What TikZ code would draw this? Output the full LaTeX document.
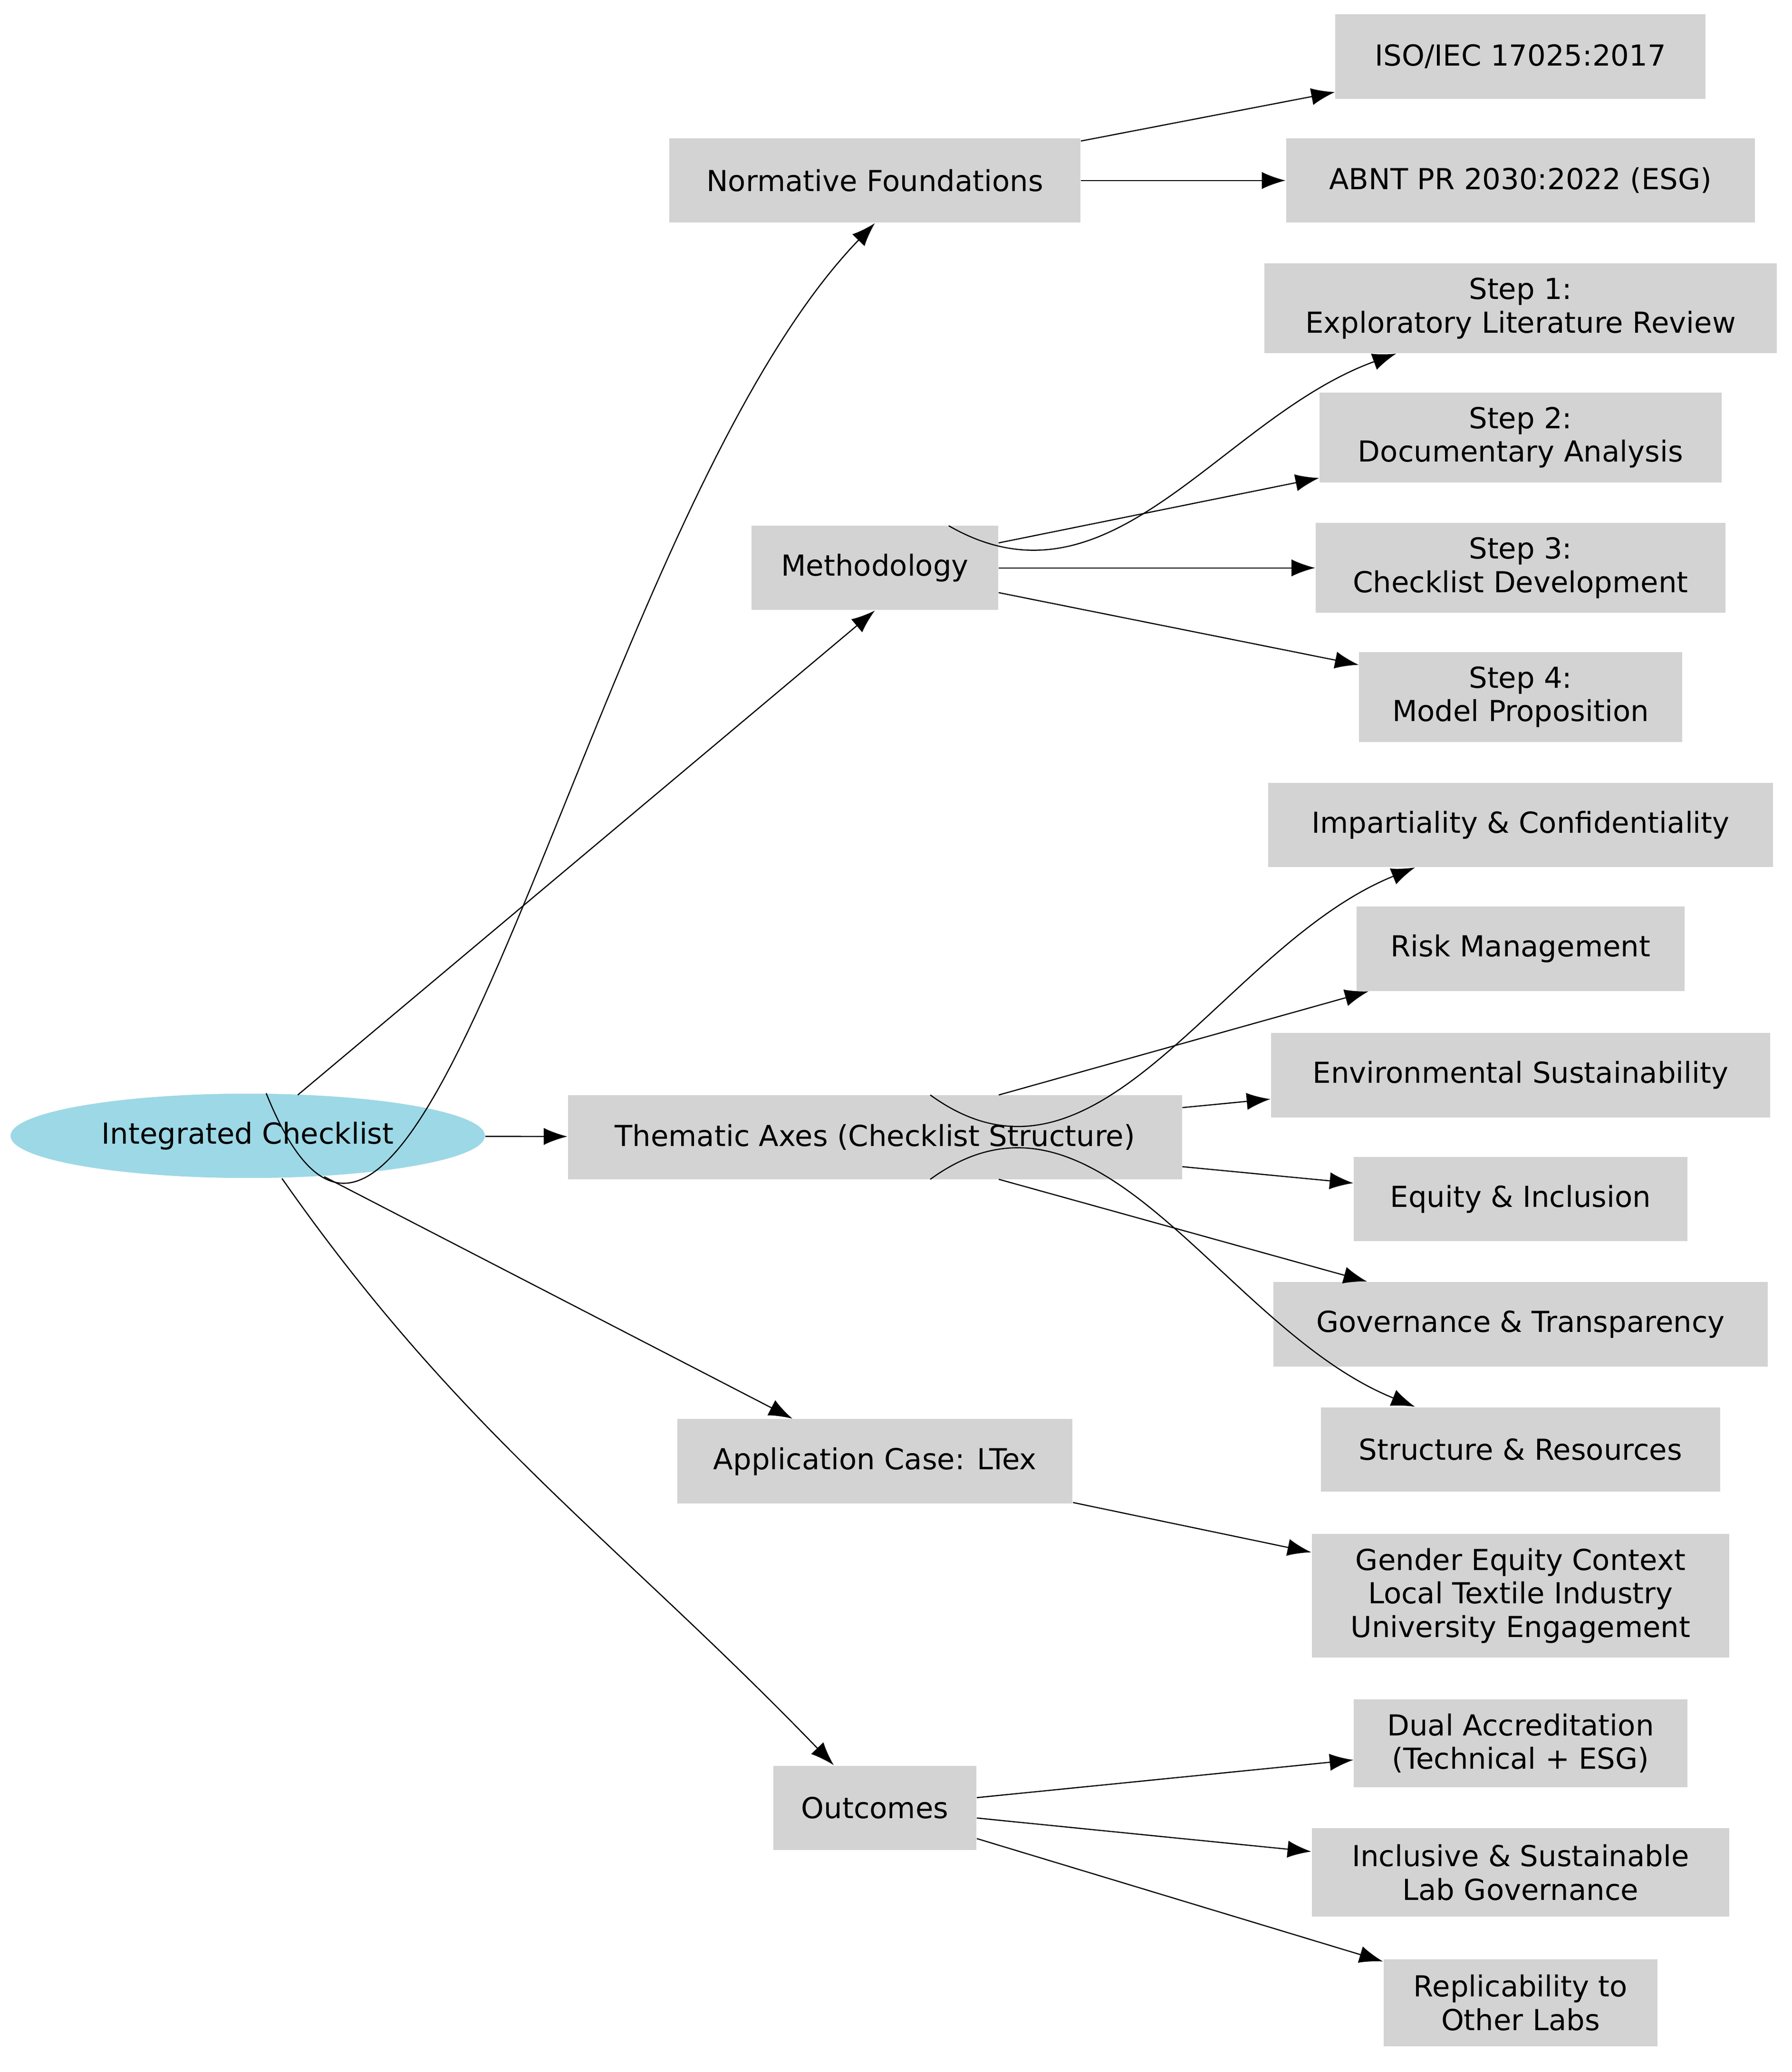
\documentclass[tikz,border=0pt]{standalone}
\usepackage{fontspec}
\setmainfont{DejaVu Sans}
\usetikzlibrary{arrows.meta,shapes.geometric}
\definecolor{lightblue}{HTML}{9DD8E6}
\definecolor{boxgray}{HTML}{D3D3D3}
\begin{document}
\begin{tikzpicture}[x=0.02cm,y=-0.02cm,
  box/.style={fill=boxgray,draw=none,align=center,inner sep=0pt,font=\fontsize{12.5}{14.5}\selectfont},
  ar/.style={-{Latex[length=0.36cm,width=0.26cm]},line width=0.5pt}]
\useasboundingbox (0,0) rectangle (1360,1572.5);
\node[ellipse,fill=lightblue,minimum width=360*0.02cm,minimum height=64*0.02cm,inner sep=0pt,font=\fontsize{12.5}{14.5}\selectfont] (ic) at (188,862) {Integrated Checklist};
\newcommand{\bx}[6]{\node[box,minimum width=#4*0.02cm,minimum height=#5*0.02cm] (#1) at (#2,#3) {#6};}
\bx{nf}{664}{137}{312}{64}{Normative Foundations}
\bx{iso}{1154}{43}{281}{64}{ISO/IEC 17025:2017}
\bx{abnt}{1154}{137}{356}{64}{ABNT PR 2030:2022 (ESG)}
\bx{me}{664}{431}{187}{64}{Methodology}
\bx{s1}{1154}{234}{389}{68}{Step 1:\\Exploratory Literature Review}
\bx{s2}{1154}{332}{305}{68}{Step 2:\\Documentary Analysis}
\bx{s3}{1154}{431}{311}{68}{Step 3:\\Checklist Development}
\bx{s4}{1154}{529}{245}{68}{Step 4:\\Model Proposition}
\bx{ta}{664}{863}{466}{64}{Thematic Axes (Checklist Structure)}
\bx{imp}{1154}{626}{383}{64}{Impartiality \& Confidentiality}
\bx{risk}{1154}{720}{249}{64}{Risk Management}
\bx{env}{1154}{816}{379}{64}{Environmental Sustainability}
\bx{eq}{1154}{910}{253}{64}{Equity \& Inclusion}
\bx{gov}{1154}{1005}{375}{64}{Governance \& Transparency}
\bx{str}{1154}{1100}{303}{64}{Structure \& Resources}
\bx{app}{664}{1109}{300}{64}{Application Case: LTex}
\bx{gen}{1154}{1211}{317}{94}{Gender Equity Context\\Local Textile Industry\\University Engagement}
\bx{out}{664}{1372}{154}{64}{Outcomes}
\bx{dual}{1154}{1323}{253}{67}{Dual Accreditation\\(Technical + ESG)}
\bx{inc}{1154}{1421}{317}{67}{Inclusive \& Sustainable\\Lab Governance}
\bx{rep}{1154}{1520}{208}{66}{Replicability to\\Other Labs}
\draw[ar] (ic.north) ++(14,0) to[out=-68,in=226] (nf.south);
\draw[ar] (ic) ++(38,-31) -- (me.south);
\draw[ar] (ic) -- (ta);
\draw[ar] (ic) ++(58,31) -- (app);
\draw[ar] (ic.south) ++(26,0) to[out=-55,in=134] (out);
\draw[ar] (nf) -- (iso);
\draw[ar] (nf) -- (abnt);
\draw[ar] (me) ++(56,-32) to[out=-30,in=200] (s1);
\draw[ar] (me) -- (s2);
\draw[ar] (me) -- (s3);
\draw[ar] (me) -- (s4);
\draw[ar] (ta) ++(42,-32) to[out=-36,in=202] (imp);
\draw[ar] (ta) ++(94,-32) -- (risk);
\draw[ar] (ta) -- (env);
\draw[ar] (ta) -- (eq);
\draw[ar] (ta) ++(94,32) -- (gov);
\draw[ar] (ta) ++(42,32) to[out=36,in=158] (str);
\draw[ar] (app) -- (gen);
\draw[ar] (out) -- (dual);
\draw[ar] (out) -- (inc);
\draw[ar] (out) -- (rep);
\end{tikzpicture}
\end{document}
